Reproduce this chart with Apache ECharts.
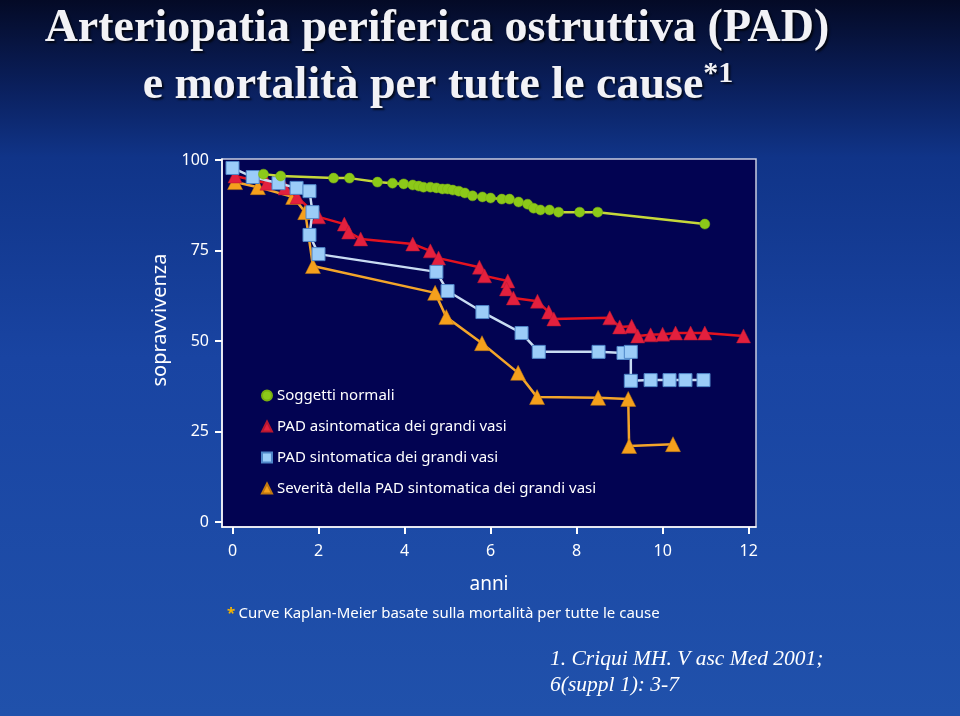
<!DOCTYPE html>
<html>
<head>
<meta charset="utf-8">
<script src="https://cdn.jsdelivr.net/npm/echarts@6/dist/echarts.min.js"></script>
<style>
html,body{margin:0;padding:0;width:960px;height:716px;overflow:hidden;}
#c{width:960px;height:716px;}
</style>
</head>
<body>
<div id="c"></div>
<script>
// ---- data (anni, sopravvivenza %) ----
const seriesNames = [
  "Soggetti normali",
  "PAD asintomatica dei grandi vasi",
  "PAD sintomatica dei grandi vasi",
  "Severità della PAD sintomatica dei grandi vasi"
];
const normaliX = [0.72,1.12,2.35,2.72,3.37,3.72,3.98,4.19,4.33,4.44,4.6,4.74,4.88,5.0,5.12,5.26,5.4,5.58,5.81,6.0,6.26,6.44,6.65,6.86,7.0,7.16,7.37,7.58,8.07,8.49,10.98];
const normaliY = [96.1,95.6,95.0,95.0,93.9,93.6,93.4,93.1,92.8,92.5,92.5,92.3,92.0,92.0,91.7,91.4,90.9,90.1,89.8,89.5,89.2,89.2,88.4,87.8,86.7,86.2,86.2,85.6,85.6,85.6,82.3];
const asintX = [0.06,0.8,1.22,1.5,2.0,2.6,2.7,2.98,4.19,4.6,4.79,5.74,5.86,6.4,6.37,6.53,7.09,7.35,7.47,8.77,9.0,9.28,9.42,9.72,10.0,10.3,10.65,10.98,11.88];
const asintY = [95.6,93.6,92.3,89.8,84.3,82.3,80.1,78.2,76.8,74.9,72.9,70.4,68.0,66.6,64.4,61.9,61.0,58.0,56.1,56.4,53.9,54.1,51.4,51.7,51.9,52.2,52.2,52.2,51.4];
const sintX = [0,0.47,1.07,1.49,1.79,1.86,1.79,2.0,4.74,5.0,5.81,6.72,7.12,8.51,9.09,9.26,9.26,9.72,10.16,10.53,10.95];
const sintY = [97.8,95.3,93.6,92.3,91.4,85.6,79.3,74.0,69.1,63.8,58.0,52.2,47.0,47.0,46.7,47.0,39.0,39.2,39.2,39.2,39.2];
const severX = [0.06,0.59,1.41,1.69,1.87,4.71,4.97,5.8,6.64,7.08,8.5,9.2,9.22,10.24];
const severY = [93.9,92.5,89.8,85.6,70.7,63.3,56.6,49.4,41.2,34.5,34.3,34.0,21.0,21.5];
const xTicks = [0,2,4,6,8,10,12];
const yTicks = [0,25,50,75,100];

const zip = (xs, ys) => xs.map((x, i) => [x, ys[i]]);

const chart = echarts.init(document.getElementById('c'), null, {renderer: 'canvas'});
const labelFont = "'Noto Sans', 'DejaVu Sans', sans-serif";
const serif = "'Liberation Serif', 'DejaVu Serif', serif";
const shadow = {textShadowColor: 'rgba(0,0,0,0.7)', textShadowOffsetX: 2, textShadowOffsetY: 2, textShadowBlur: 2};

const option = {
  animation: false,
  backgroundColor: {
    type: 'linear', x: 0, y: 0, x2: 0, y2: 1,
    colorStops: [
      {offset: 0, color: '#040a26'},
      {offset: 0.12, color: '#0a1f5c'},
      {offset: 0.22, color: '#103488'},
      {offset: 0.5, color: '#1944a2'},
      {offset: 1, color: '#2051ab'}
    ]
  },
  grid: {
    left: 222, right: 204, top: 159, bottom: 189,
    show: true, backgroundColor: '#020352', borderColor: '#c8cce0', borderWidth: 1.5
  },
  legend: {
    orient: 'vertical', left: 256, top: 383,
    itemWidth: 10, itemHeight: 10, itemGap: 16,
    textStyle: {color: '#ffffff', fontSize: 15, fontFamily: labelFont},
    data: [
      {name: seriesNames[0], icon: 'circle'},
      {name: seriesNames[1], icon: 'triangle'},
      {name: seriesNames[2], icon: 'rect'},
      {name: seriesNames[3], icon: 'triangle'}
    ]
  },
  xAxis: {
    type: 'value', min: -0.244, max: 12.17,
    name: 'anni', nameLocation: 'middle', nameGap: 48,
    nameTextStyle: {color: '#ffffff', fontSize: 19, fontFamily: labelFont},
    axisLine: {onZero: false, lineStyle: {color: '#ffffff', width: 1.5}},
    axisTick: {show: true, length: 7, lineStyle: {color: '#ffffff', width: 2}, customValues: xTicks},
    axisLabel: {color: '#ffffff', fontSize: 16, fontFamily: labelFont, margin: 16, customValues: xTicks},
    splitLine: {show: false}
  },
  yAxis: {
    type: 'value', min: -1.38, max: 100.28,
    axisLine: {show: true, onZero: false, lineStyle: {color: '#ffffff', width: 1.5}},
    axisTick: {show: true, length: 7, lineStyle: {color: '#ffffff', width: 2}, customValues: yTicks},
    axisLabel: {color: '#ffffff', fontSize: 16, fontFamily: labelFont, margin: 13, customValues: yTicks},
    splitLine: {show: false}
  },
  series: [
    {
      name: seriesNames[0], type: 'line', z: 5, data: zip(normaliX, normaliY),
      symbol: 'circle', symbolSize: 10,
      itemStyle: {color: '#8cc919', borderColor: '#7ab010', borderWidth: 0.5},
      lineStyle: {color: '#c6d83a', width: 2.5}
    },
    {
      name: seriesNames[1], type: 'line', z: 3, data: zip(asintX, asintY),
      symbol: 'triangle', symbolSize: 14,
      itemStyle: {color: '#e3203e', borderColor: '#b81830', borderWidth: 0.5},
      lineStyle: {color: '#e4131f', width: 2.5}
    },
    {
      name: seriesNames[2], type: 'line', z: 4, data: zip(sintX, sintY),
      symbol: 'rect', symbolSize: 13,
      itemStyle: {color: '#9bccf8', borderColor: '#4f86c8', borderWidth: 1},
      lineStyle: {color: '#c9dcf2', width: 2.5}
    },
    {
      name: seriesNames[3], type: 'line', z: 2, data: zip(severX, severY),
      symbol: 'triangle', symbolSize: 15,
      itemStyle: {color: '#f5a01c', borderColor: '#c07810', borderWidth: 0.5},
      lineStyle: {color: '#f3a52a', width: 2.5}
    }
  ],
  graphic: [
    {
      type: 'text', x: 437, y: 6, z: 10,
      style: Object.assign({
        text: 'Arteriopatia periferica ostruttiva (PAD)',
        fill: '#f2f2f6', font: "bold 46px " + serif, textAlign: 'center'
      }, shadow)
    },
    {
      type: 'text', x: 438, y: 59, z: 10,
      style: {
        text: '{m|e mortalità per tutte le cause}{s|*1}',
        textAlign: 'center',
        rich: {
          m: Object.assign({fill: '#f2f2f6', fontSize: 46, fontWeight: 'bold', fontFamily: serif, lineHeight: 54}, shadow),
          s: Object.assign({fill: '#f2f2f6', fontSize: 30, fontWeight: 'bold', fontFamily: serif, lineHeight: 30, verticalAlign: 'top'}, shadow)
        }
      }
    },
    {
      type: 'text', x: 160, y: 320, rotation: Math.PI / 2, z: 10,
      style: {
        text: 'sopravvivenza', fill: '#ffffff', font: "20px " + labelFont,
        textAlign: 'center', textVerticalAlign: 'middle'
      }
    },
    {
      type: 'text', x: 227, y: 614, z: 10,
      style: {
        text: '{a|*} {b|Curve Kaplan-Meier basate sulla mortalità per tutte le cause}',
        textVerticalAlign: 'middle',
        rich: {
          a: {fill: '#f7b500', fontSize: 15, fontFamily: labelFont, fontWeight: 'bold'},
          b: {fill: '#ffffff', fontSize: 15, fontFamily: labelFont}
        }
      }
    },
    {
      type: 'text', x: 550, y: 646, z: 10,
      style: {
        text: '1. Criqui MH. V asc Med 2001;\n6(suppl 1): 3-7',
        fill: '#ffffff', font: "italic 21.5px " + serif, lineHeight: 26
      }
    }
  ]
};
chart.setOption(option);
</script>
</body>
</html>
